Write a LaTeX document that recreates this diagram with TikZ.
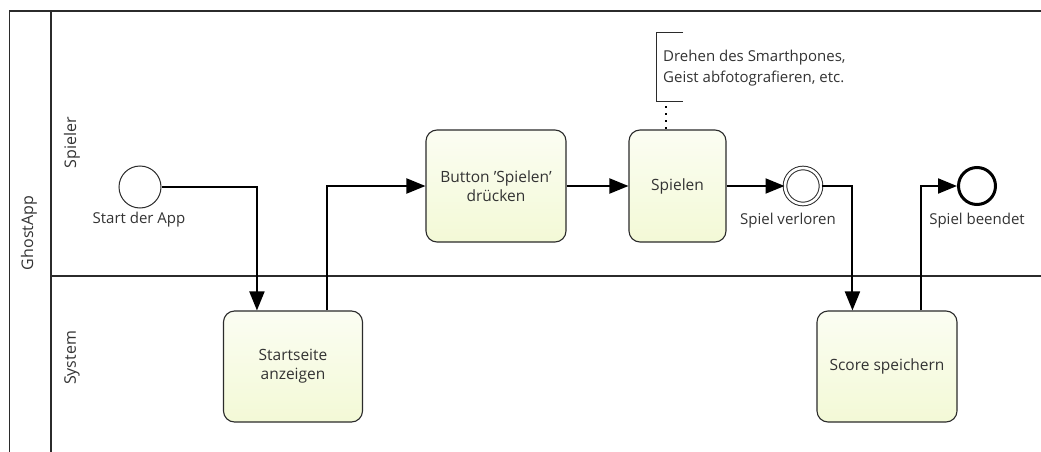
\documentclass[tikz,border=0pt]{standalone}
\usepackage{fontspec}
\setmainfont{Open Sans}
\usetikzlibrary{arrows.meta}
\definecolor{taskfill}{HTML}{F3F9D6}
\definecolor{ink}{HTML}{2B2B2B}
\definecolor{txt}{HTML}{333333}
\begin{document}
\begin{tikzpicture}[x=1pt,y=-1pt,
  every node/.style={text=txt},
  frame/.style={draw=ink,line width=1.1pt},
  lanelabel/.style={rotate=90,font=\fontsize{16}{19}\selectfont},
  task/.style={draw=ink,line width=1.1pt,rounded corners=11pt,
    top color=taskfill!30!white,bottom color=taskfill,
    align=center,font=\fontsize{15.5}{19}\selectfont,inner sep=0pt},
  startev/.style={circle,draw=ink,line width=1pt,fill=white,minimum size=42pt,inner sep=0pt},
  midev/.style={circle,draw=ink,line width=1pt,fill=white,double=white,double distance=2.6pt,minimum size=36pt,inner sep=0pt},
  endev/.style={circle,draw=black,line width=3pt,fill=white,minimum size=37pt,inner sep=0pt},
  evlabel/.style={font=\fontsize{15}{18}\selectfont},
  flow/.style={draw=black,line width=2pt,-{Triangle[length=19pt,width=15pt]}},
  note/.style={font=\fontsize{15}{21}\selectfont,align=left,inner sep=0pt}
]
\useasboundingbox (0,0) rectangle (1041,452);
\fill[white] (0,0) rectangle (1041,452);

% pool and lanes
\draw[frame] (1041,11) -- (9.5,11) -- (9.5,452);
\draw[frame] (51,11) -- (51,452);
\draw[frame] (51,276) -- (1041,276);
\node[lanelabel] (pool) at (29,233) {GhostApp};
\node[lanelabel] (lane1) at (72,143) {Spieler};
\node[lanelabel] (lane2) at (72,358) {System};

% events
\node[startev] (start) at (140,187) {};
\node[evlabel] (startlbl) at (139,220) {Start der App};
\node[midev] (lost) at (803,186) {};
\node[evlabel] (lostlbl) at (788,221) {Spiel verloren};
\node[endev] (end) at (977,186) {};
\node[evlabel] (endlbl) at (977,221) {Spiel beendet};

% tasks
\node[task,minimum width=139pt,minimum height=111pt] (startseite) at (293,366.5) {Startseite\\anzeigen};
\node[task,minimum width=140pt,minimum height=112pt] (button) at (496,186) {Button 'Spielen'\\drücken};
\node[task,minimum width=97pt,minimum height=112pt] (spielen) at (677.5,186) {Spielen};
\node[task,minimum width=140pt,minimum height=111pt] (score) at (887,366.5) {Score speichern};

% annotation
\node[note,anchor=west] (note) at (663,68) {Drehen des Smarthpones,\\Geist abfotografieren, etc.};
\draw[draw=ink,line width=1pt] (683,33) -- (656.5,33) -- (656.5,101) -- (683,101);
\draw[black,line width=2pt,dash pattern=on 2pt off 5pt] (666,106) -- (spielen.north -| 666,0);

% sequence flows
\draw[flow] (start.east) -| ([xshift=34pt]startseite.north west);
\draw[flow] ([xshift=104pt]startseite.north west) |- (button.west);
\draw[flow] (button.east) -- (spielen.west);
\draw[flow] (spielen.east) -- (lost.west);
\draw[flow] (lost.east) -| ([xshift=36pt]score.north west);
\draw[flow] ([xshift=105pt]score.north west) |- (end.west);
\end{tikzpicture}
\end{document}
